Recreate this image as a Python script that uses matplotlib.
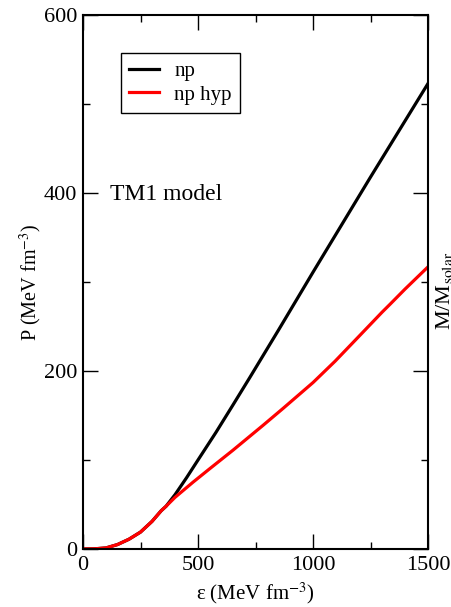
import matplotlib as mpl
mpl.use('Agg')
import matplotlib.pyplot as plt
from matplotlib.ticker import MultipleLocator

plt.rcParams['font.family'] = ['Liberation Serif', 'DejaVu Serif']
plt.rcParams['mathtext.fontset'] = 'stix'

# energy density (MeV fm^-3) and pressure (MeV fm^-3)
eps_np = [0, 50, 100, 150, 200, 250, 300, 340, 361, 400, 450, 500, 578, 650,
          726, 850, 1000, 1248, 1500]
p_np = [0, 0.2, 1.2, 5, 11, 19, 31, 43, 48, 61, 80, 100, 131, 161,
        193, 246, 311, 417, 523]

eps_hyp = [0, 50, 100, 150, 200, 250, 300, 340, 361, 400, 478, 550, 652, 783,
           870, 1000, 1096, 1200, 1300, 1335, 1400, 1500]
p_hyp = [0, 0.2, 1.2, 5, 11, 19, 31, 43, 48, 58, 75, 90, 111, 139,
         158, 187, 211, 239, 266, 275, 292, 317]

labels = ['np', 'np hyp']
colors = ['black', 'red']

fig = plt.figure(figsize=(4.51, 6.07), dpi=100)
ax = fig.add_axes([83/451, 1-549/607, 345/451, 534/607])

ax.plot(eps_np, p_np, color=colors[0], lw=2.3, label=labels[0])
ax.plot(eps_hyp, p_hyp, color=colors[1], lw=2.3, label=labels[1])

ax.set_xlim(0, 1500)
ax.set_ylim(0, 600)
ax.xaxis.set_major_locator(MultipleLocator(500))
ax.xaxis.set_minor_locator(MultipleLocator(250))
ax.yaxis.set_major_locator(MultipleLocator(200))
ax.yaxis.set_minor_locator(MultipleLocator(100))
ax.tick_params(which='both', direction='in', top=True, right=True, labelsize=16, width=1)
ax.tick_params(which='major', length=11)
ax.tick_params(which='minor', length=5)
ax.tick_params(axis='x', pad=5)
ax.tick_params(axis='y', pad=4)
for s in ax.spines.values():
    s.set_linewidth(1.5)

ax.set_xlabel('ε (MeV fm$^{-3}$)', fontsize=15, labelpad=4)
ax.set_ylabel('P (MeV fm$^{-3}$)', fontsize=14.5, labelpad=0)

ax.text(117, 398, 'TM1 model', fontsize=17, va='center', ha='left')

leg = ax.legend(loc='upper left', bbox_to_anchor=(0.11, 0.929), borderaxespad=0,
                fancybox=False, edgecolor='black', fontsize=15, handlelength=1.45,
                handletextpad=0.7, borderpad=0.4, labelspacing=0.2, framealpha=1)
leg.get_frame().set_linewidth(1.0)

# clipped right-hand label
fig.text(434/451, 1-330/607, 'M/M$_{\\rm solar}$', rotation=90, fontsize=16,
         ha='left', va='bottom')

fig.savefig('out.png', dpi=100)
